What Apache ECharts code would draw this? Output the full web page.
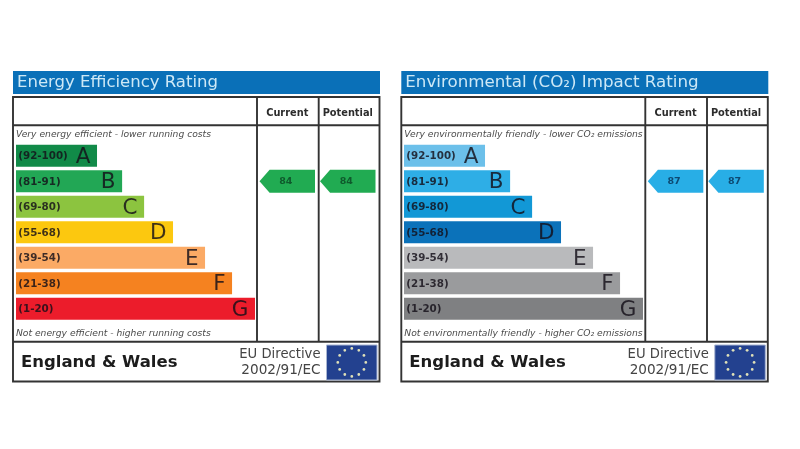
<!DOCTYPE html>
<html>
<head>
<meta charset="utf-8">
<style>html,body{margin:0;padding:0;background:#fff}#c{width:800px;height:449px;filter:blur(0.35px)}</style>
<script src="https://cdn.jsdelivr.net/npm/echarts@6/dist/echarts.min.js"></script>
</head>
<body>
<div id="c"></div>
<script>
const bandLetters = ['A','B','C','D','E','F','G'];
const bandRanges = ['(92-100)','(81-91)','(69-80)','(55-68)','(39-54)','(21-38)','(1-20)'];
const bandMinimums = [92,81,69,55,39,21,1];
const barLengths = [33.9,44.4,53.6,65.7,79.1,90.4,100];
const columns = ['Current','Potential'];
const energyColors = ['#118a48','#22a755','#8cc43f','#fcc80f','#fbaa65','#f58220','#ec1c2b'];
const co2Colors = ['#6cc0ea','#2eaee6','#1298d6','#0b72ba','#b9babc','#9a9b9d','#7f8082'];
const energyRatings = [84,84];
const co2Ratings = [87,87];
const FONT = '"DejaVu Sans"';
const INK = 'rgba(20,15,25,0.82)';
const LINE = '#333';
const ARROW = 'path://M0 11.5 L10 0 L55 0 L55 23 L10 23 Z';

const panels = [
  {dx:0, title:'Energy Efficiency Rating', titleSize:16.5, top:'Very energy efficient - lower running costs',
   bottom:'Not energy efficient - higher running costs', colors:energyColors, ratings:energyRatings, arrow:'#21ab52', arrowText:'#0f5a2c'},
  {dx:388.3, title:'Environmental (CO\u2082) Impact Rating', titleSize:16.7, top:'Very environmentally friendly - lower CO\u2082 emissions',
   bottom:'Not environmentally friendly - higher CO\u2082 emissions', colors:co2Colors, ratings:co2Ratings, arrow:'#28aee6', arrowText:'#0d4a72'}
];

function bandOf(r){ return bandLetters[bandMinimums.findIndex(m => r >= m)]; }

const grids=[], xAxes=[], yAxes=[], series=[], titles=[], graphics=[];
panels.forEach((p,i)=>{
  const d=p.dx, g0=i*2, g1=i*2+1;
  grids.push({left:16+d-(i?0.3:0),top:143,width:239,height:178.5},{left:257+d,top:143,width:121,height:178.5});
  xAxes.push({gridIndex:g0,type:'value',min:0,max:100,show:false});
  xAxes.push({gridIndex:g1,type:'category',data:columns,position:'top',offset:24.5,
    axisLine:{show:false},axisTick:{show:false},splitLine:{show:false},
    axisLabel:{show:true,interval:0,margin:0,color:'#2c2c2c',fontFamily:FONT,fontWeight:'bold',fontSize:9.8}});
  [g0,g1].forEach(g=>yAxes.push({gridIndex:g,type:'category',inverse:true,data:bandLetters,show:false}));
  series.push({type:'bar',xAxisIndex:g0,yAxisIndex:g0,barWidth:22,barGap:'-100%',silent:true,
    data:barLengths.map((v,k)=>({value:v,itemStyle:{color:p.colors[k]}})),
    label:{show:true,position:'insideLeft',distance:2.3,offset:[0,0.7],color:INK,fontFamily:FONT,fontWeight:'bold',fontSize:10.3,
      formatter:o=>bandRanges[o.dataIndex]}});
  series.push({type:'bar',xAxisIndex:g0,yAxisIndex:g0,barWidth:22,barGap:'-100%',silent:true,
    data:barLengths,itemStyle:{color:'rgba(0,0,0,0)'},
    label:{show:true,position:'insideRight',distance:6.5,offset:[0,1.5],color:INK,fontFamily:FONT,fontSize:21.5,
      formatter:o=>bandLetters[o.dataIndex]}});
  series.push({type:'scatter',xAxisIndex:g1,yAxisIndex:g1,silent:true,
    symbol:ARROW,symbolSize:[55.5,23],itemStyle:{color:p.arrow,opacity:1},
    data:p.ratings.map((r,k)=>({value:[columns[k],bandOf(r)],rating:r})),
    label:{show:true,position:'inside',offset:[-1.5,0.5],color:p.arrowText,fontFamily:FONT,fontWeight:'bold',fontSize:9.5,
      formatter:o=>String(o.data.rating)}});
  titles.push({text:p.title,left:17+d,top:74.5,padding:0,textStyle:{color:'#cde8f6',fontFamily:FONT,fontWeight:'normal',fontSize:p.titleSize}});

  const ln=(x1,y1,x2,y2)=>({type:'line',shape:{x1:x1+d,y1,x2:x2+d,y2},style:{stroke:LINE,lineWidth:1.9}});
  const tx=(x,y,text,o)=>({type:'text',x:x+d,y,style:Object.assign({text,fontFamily:FONT,fill:'#3c3c3c',verticalAlign:'middle'},o)});
  graphics.push(
    {type:'rect',shape:{x:13+d,y:71,width:367,height:23},style:{fill:'#0a70b8'}},
    {type:'rect',shape:{x:13+d,y:97,width:366.5,height:284.5},style:{fill:'#fff',stroke:LINE,lineWidth:1.9}},
    ln(13,125.3,379.5,125.3), ln(13,341.7,379.5,341.7), ln(257,97,257,341.7), ln(318.7,97,318.7,341.7),
    tx(16,135,p.top,{fontStyle:'italic',fontSize:9.16,fill:'#4a4a4a'}),
    tx(16,333.5,p.bottom,{fontStyle:'italic',fontSize:9.16,fill:'#4a4a4a'}),
    tx(21,362.5,'England & Wales',{fontWeight:'bold',fontSize:16.5,fill:'#1c1c1c'}),
    tx(320.5,354.3,'EU Directive',{fontSize:13.2,align:'right',fill:'#444'}),
    tx(320.5,370.5,'2002/91/EC',{fontSize:13.6,align:'right',fill:'#444'}),
    {type:'rect',shape:{x:326.5+d,y:345,width:50.5,height:35},style:{fill:'#23418f',stroke:'#a9b6d2',lineWidth:1}}
  );
  for(let s=0;s<12;s++){
    const a=s*Math.PI/6;
    graphics.push({type:'circle',shape:{cx:351.8+d+Math.sin(a)*14,cy:362.4-Math.cos(a)*14,r:1.4},style:{fill:'#dfe0b8'}});
  }
});

const chart=echarts.init(document.getElementById('c'),null,{renderer:'canvas'});
chart.setOption({backgroundColor:'#fff',animation:false,title:titles,grid:grids,xAxis:xAxes,yAxis:yAxes,series,graphic:graphics.map(g=>Object.assign({z:0},g))});
</script>
</body>
</html>
